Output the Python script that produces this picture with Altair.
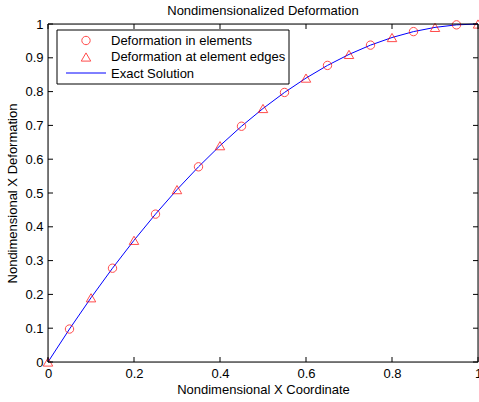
import altair as alt
import pandas as pd

# Element centers (circles)
xc = [0.05, 0.15, 0.25, 0.35, 0.45, 0.55, 0.65, 0.75, 0.85, 0.95]
yc = [0.0975, 0.2775, 0.4375, 0.5775, 0.6975, 0.7975, 0.8775, 0.9375, 0.9775, 0.9975]
# Element edges (triangles)
xe = [0.0, 0.1, 0.2, 0.3, 0.4, 0.5, 0.6, 0.7, 0.8, 0.9, 1.0]
ye = [0.0, 0.19, 0.36, 0.51, 0.64, 0.75, 0.84, 0.91, 0.96, 0.99, 1.0]
# Exact solution samples
xs = [0.0, 0.05, 0.1, 0.15, 0.2, 0.25, 0.3, 0.35, 0.4, 0.45, 0.5,
      0.55, 0.6, 0.65, 0.7, 0.75, 0.8, 0.85, 0.9, 0.95, 1.0]
ys = [0.0, 0.0975, 0.19, 0.2775, 0.36, 0.4375, 0.51, 0.5775, 0.64, 0.6975, 0.75,
      0.7975, 0.84, 0.8775, 0.91, 0.9375, 0.96, 0.9775, 0.99, 0.9975, 1.0]
xticks = [0, 0.2, 0.4, 0.6, 0.8, 1]
yticks = [0, 0.1, 0.2, 0.3, 0.4, 0.5, 0.6, 0.7, 0.8, 0.9, 1]
legend_labels = ["Deformation in elements", "Deformation at element edges", "Exact Solution"]

W, H = 430, 338
FONT = "Liberation Sans"
FS = 13
XT = "Nondimensional X Coordinate"
YT = "Nondimensional X Deformation"

dc = pd.DataFrame({"x": xc, "y": yc})
de = pd.DataFrame({"x": xe, "y": ye})
ds = pd.DataFrame({"x": xs, "y": ys})
dxt = pd.DataFrame({"x": xticks})
dyt = pd.DataFrame({"y": yticks})

xsc = alt.Scale(domain=[0, 1], nice=False, zero=False)
ysc = alt.Scale(domain=[0, 1], nice=False, zero=False)

xaxis = alt.Axis(values=xticks, grid=False, ticks=False, domain=False,
                 labelFont=FONT, labelFontSize=FS, labelColor="black",
                 titleFont=FONT, titleFontSize=FS, titleFontWeight="normal",
                 titleColor="black", labelPadding=5, titlePadding=3,
                 labelFlush=False, labelOverlap=False,
                 labelExpr="format(datum.value, '')")
yaxis = alt.Axis(values=yticks, grid=False, ticks=False, domain=False,
                 labelFont=FONT, labelFontSize=FS, labelColor="black",
                 titleFont=FONT, titleFontSize=FS, titleFontWeight="normal",
                 titleColor="black", labelPadding=5, titlePadding=5,
                 labelFlush=False, labelOverlap=False,
                 labelExpr="format(datum.value, '')")

X = alt.X("x:Q", scale=xsc, axis=xaxis, title=XT)
Y = alt.Y("y:Q", scale=ysc, axis=yaxis, title=YT)

line = alt.Chart(ds).mark_line(color="#0000ff", strokeWidth=1).encode(x=X, y=Y)
circ = alt.Chart(dc).mark_point(shape="circle", filled=False, color="#ff0000",
                                size=70, strokeWidth=1, clip=False).encode(x=X, y=Y)
tri = alt.Chart(de).mark_point(shape="triangle-up", filled=False, color="#ff0000",
                               size=90, strokeWidth=1, clip=False).encode(x=X, y=Y)

one = pd.DataFrame({"a": [0]})
# box frame
frame = alt.Chart(one).mark_rect(
    fill=None, stroke="black", strokeWidth=1).encode(
    x=alt.value(0), x2=alt.value(W), y=alt.value(0), y2=alt.value(H))

# inward ticks
tb = alt.Chart(dxt).mark_rule(color="black", strokeWidth=1).encode(
    x=X, y=alt.value(H), y2=alt.value(H - 5))
tt = alt.Chart(dxt).mark_rule(color="black", strokeWidth=1).encode(
    x=X, y=alt.value(0), y2=alt.value(5))
tl = alt.Chart(dyt).mark_rule(color="black", strokeWidth=1).encode(
    y=Y, x=alt.value(0), x2=alt.value(5))
tr = alt.Chart(dyt).mark_rule(color="black", strokeWidth=1).encode(
    y=Y, x=alt.value(W), x2=alt.value(W - 5))

# legend
lbox = alt.Chart(one).mark_rect(fill="white", stroke="black", strokeWidth=1).encode(
    x=alt.value(9), x2=alt.value(241), y=alt.value(6), y2=alt.value(60))
lc = alt.Chart(one).mark_point(shape="circle", filled=False, color="#ff0000",
                               size=70, strokeWidth=1).encode(
    x=alt.value(38), y=alt.value(16.5))
lt = alt.Chart(one).mark_point(shape="triangle-up", filled=False, color="#ff0000",
                               size=90, strokeWidth=1).encode(
    x=alt.value(38), y=alt.value(33))
ll = alt.Chart(one).mark_rule(color="#0000ff", strokeWidth=1).encode(
    x=alt.value(18), x2=alt.value(58), y=alt.value(49))
ltxts = [
    alt.Chart(one).mark_text(align="left", baseline="middle", font=FONT, fontSize=FS,
                             color="black", text=lab).encode(
        x=alt.value(63), y=alt.value(yy))
    for lab, yy in zip(legend_labels, [16.5, 33, 49.5])
]

chart = alt.layer(line, circ, tri, frame, tb, tt, tl, tr, lbox, lc, lt, ll, *ltxts).properties(
    width=W, height=H,
    title=alt.TitleParams("Nondimensionalized Deformation", font=FONT, fontSize=FS,
                          fontWeight="normal", color="black", offset=0),
    autosize=alt.AutoSizeParams(type="none"),
    padding={"left": 48, "top": 24, "right": 1, "bottom": 40},
).configure_view(stroke=None).configure(background="white")

chart.save("out.html", embed_options={"renderer": "svg", "actions": False})
